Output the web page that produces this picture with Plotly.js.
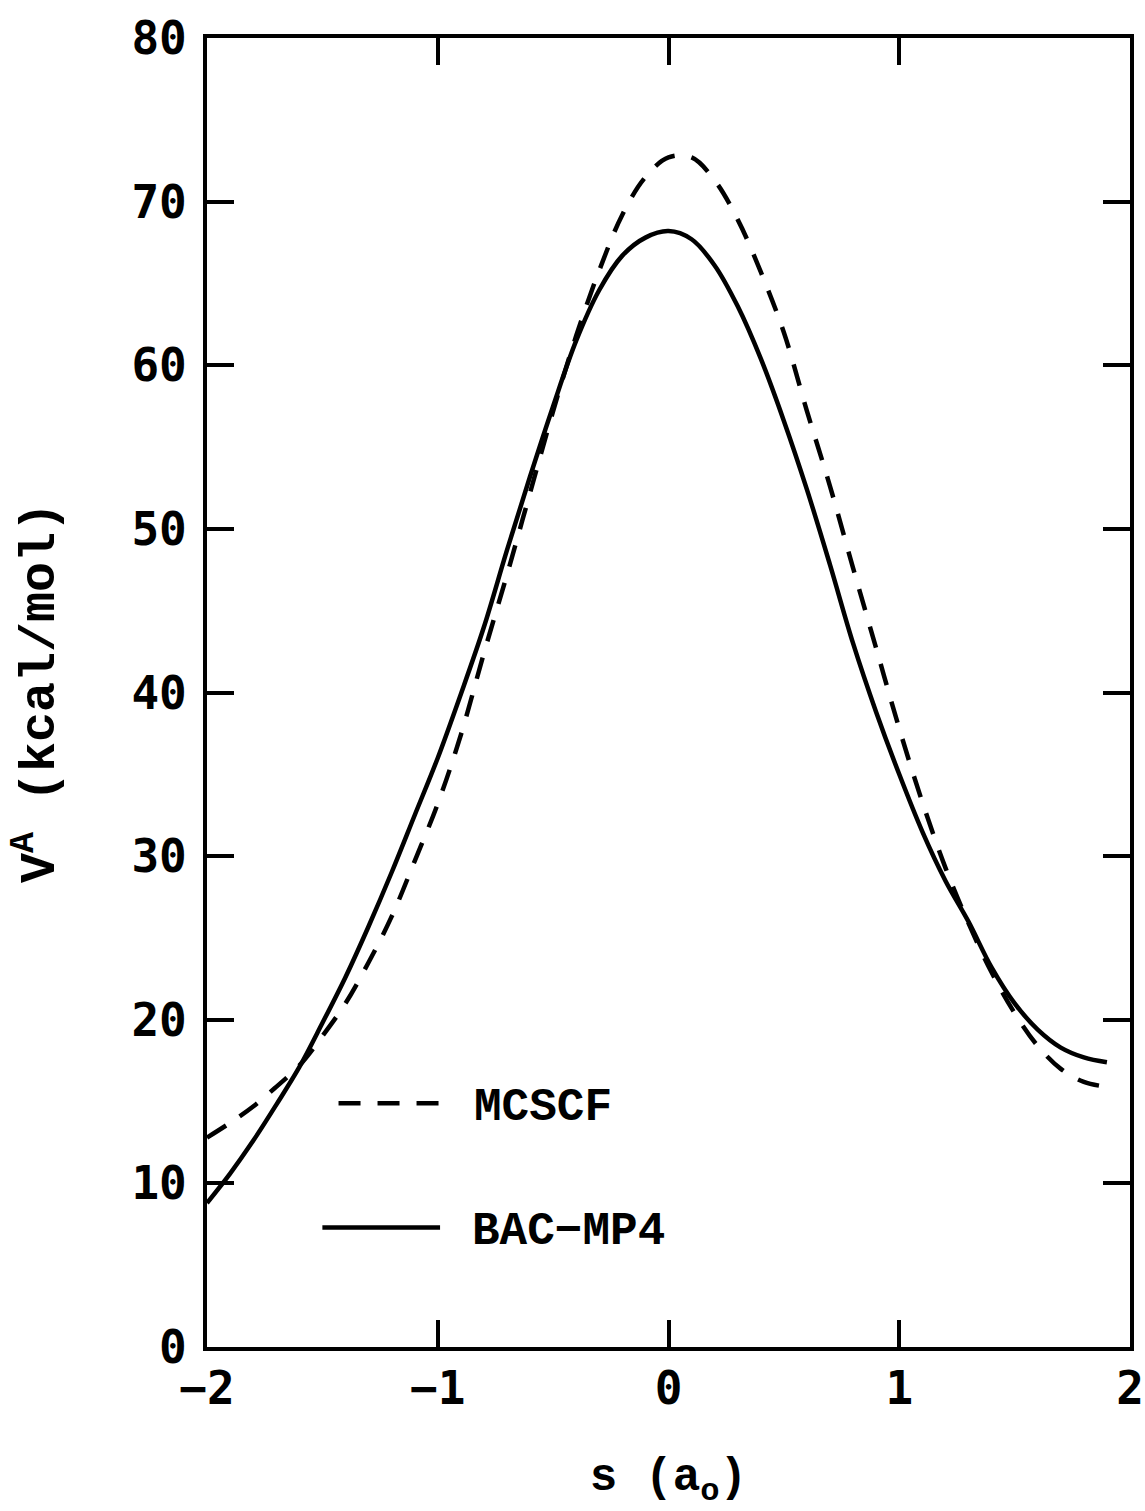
<!DOCTYPE html>
<html>
<head>
<meta charset="utf-8">
<script src="https://cdn.plot.ly/plotly-3.0.1.min.js"></script>
<style>
  html, body { margin: 0; padding: 0; background: #fff; }
  #chart { width: 1145px; height: 1511px; }
</style>
</head>
<body>
<div id="chart"></div>
<script>
// Reaction coordinate s (a0)
const sValues = [-2.0, -1.9, -1.8, -1.7, -1.6, -1.5, -1.4, -1.3, -1.2, -1.1,
                 -1.0, -0.9, -0.8, -0.7, -0.6, -0.5, -0.4, -0.3, -0.2, -0.1,
                  0.0,  0.1,  0.2,  0.3,  0.4,  0.5,  0.6,  0.7,  0.8,  0.9,
                  1.0,  1.1,  1.2,  1.3,  1.4,  1.5,  1.6,  1.7,  1.8,  1.9];

// MCSCF (dashed)
const mcscf = [12.8, 13.7, 14.7, 15.9, 17.2, 19.0, 21.0, 23.5, 26.3, 29.7,
               33.2, 37.4, 42.4, 47.2, 52.2, 57.2, 61.8, 65.8, 69.2, 71.5,
               72.7, 72.7, 71.3, 68.9, 65.7, 62.0, 57.2, 52.6, 47.6, 42.7,
               37.8, 33.3, 29.3, 25.9, 22.9, 20.4, 18.4, 17.0, 16.2, 15.9];

// BAC-MP4 (solid)
const bacmp4 = [8.8, 10.6, 12.6, 14.8, 17.1, 19.8, 22.6, 25.7, 29.0, 32.5,
                36.0, 39.9, 44.0, 48.7, 53.2, 57.5, 61.5, 64.6, 66.7, 67.8,
                68.2, 67.7, 66.1, 63.6, 60.4, 56.6, 52.4, 47.8, 43.0, 38.8,
                35.0, 31.5, 28.5, 26.0, 23.2, 21.0, 19.4, 18.3, 17.7, 17.4];

const seriesNames = ["MCSCF", "BAC\u2212MP4"];
const xTicks = [-2, -1, 0, 1, 2];
const yTicks = [0, 10, 20, 30, 40, 50, 60, 70, 80];

const tickFont = { family: "DejaVu Sans Mono", size: 46, color: "#000", weight: "bold" };
const textFont = { family: "Liberation Mono", size: 46, color: "#000", weight: "bold" };
const yTitleFont = { family: "Liberation Mono", size: 50, color: "#000", weight: "bold" };

const dashStyle = "22px,17px";

const traces = [
  { x: sValues, y: mcscf, name: seriesNames[0], mode: "lines", type: "scatter",
    line: { color: "#000", width: 4.5, dash: dashStyle, shape: "spline", smoothing: 1.0 },
    showlegend: false, hoverinfo: "x+y" },
  { x: sValues, y: bacmp4, name: seriesNames[1], mode: "lines", type: "scatter",
    line: { color: "#000", width: 4.5, shape: "spline", smoothing: 1.0 },
    showlegend: false, hoverinfo: "x+y" }
];

// legend drawn inside the plot (long key lines like the original)
const shapes = [
  { type: "line", xref: "x", yref: "y", x0: -1.43, x1: -0.99, y0: 14.9, y1: 14.9,
    line: { color: "#000", width: 4.5, dash: dashStyle } },
  { type: "line", xref: "x", yref: "y", x0: -1.50, x1: -0.99, y0: 7.3, y1: 7.3,
    line: { color: "#000", width: 4.5 } }
];
const annotations = [
  { xref: "x", yref: "y", x: -0.85, y: 14.6, text: seriesNames[0], showarrow: false,
    xanchor: "left", yanchor: "middle", font: textFont },
  { xref: "x", yref: "y", x: -0.86, y: 7.0, text: seriesNames[1], showarrow: false,
    xanchor: "left", yanchor: "middle", font: textFont }
];

const layout = {
  width: 1145, height: 1511,
  margin: { l: 207, r: 15, t: 38, b: 164 },
  paper_bgcolor: "#fff", plot_bgcolor: "#fff",
  showlegend: false,
  xaxis: {
    range: [-2, 2], tickvals: xTicks,
    ticktext: xTicks.map(v => v < 0 ? "\u2212" + Math.abs(v) : String(v)),
    ticks: "inside", ticklen: 27, tickwidth: 4, tickcolor: "#000",
    showline: true, linewidth: 4, linecolor: "#000", mirror: "ticks",
    showgrid: false, zeroline: false, tickfont: tickFont, ticklabelstandoff: -2,
    title: { text: "s (a<sub>o</sub>)", font: textFont, standoff: 45 }
  },
  yaxis: {
    range: [0, 80], tickvals: yTicks,
    ticks: "inside", ticklen: 27, tickwidth: 4, tickcolor: "#000",
    showline: true, linewidth: 4, linecolor: "#000", mirror: "ticks",
    showgrid: false, zeroline: false, tickfont: tickFont, ticklabelstandoff: 7,
    title: { text: "V<sup>A</sup> (kcal/mol)", font: yTitleFont, standoff: 62 }
  },
  shapes: shapes,
  annotations: annotations
};

Plotly.newPlot("chart", traces, layout, { displayModeBar: false, staticPlot: true });
</script>
</body>
</html>
